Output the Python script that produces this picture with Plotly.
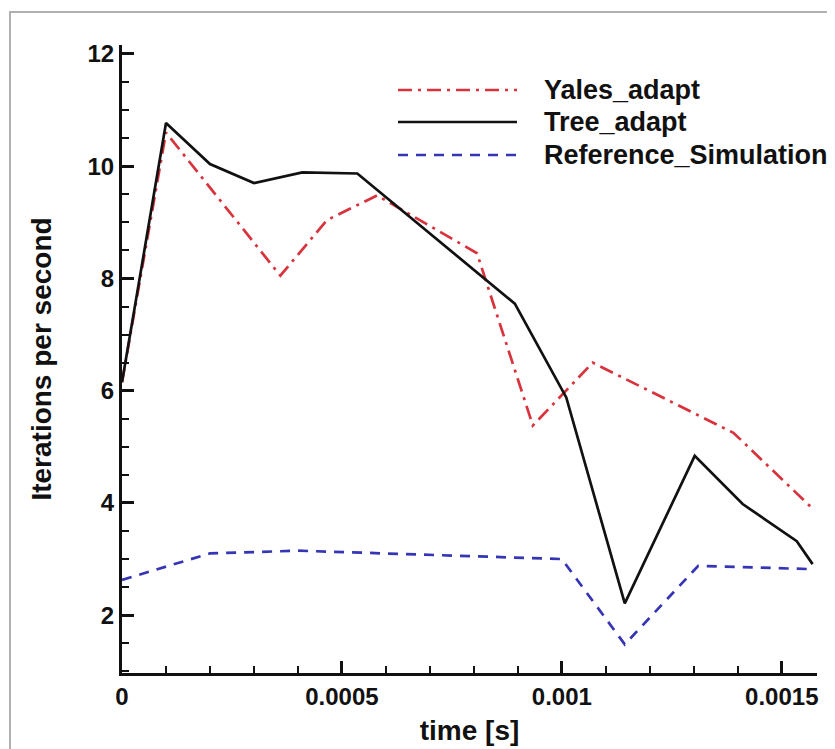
import plotly.graph_objects as go

# ---- data ----
tree_t = [0, 0.0001, 0.0002, 0.0003, 0.00041, 0.000535, 0.000893, 0.00101,
          0.001143, 0.001302, 0.001411, 0.001534, 0.00157]
tree_y = [6.15, 10.77, 10.04, 9.70, 9.89, 9.87, 7.55, 5.88,
          2.21, 4.84, 3.98, 3.32, 2.91]

yales_t = [0, 0.0001, 0.00036, 0.000466, 0.00058, 0.000807, 0.000934,
           0.00107, 0.00139, 0.00157]
yales_y = [6.15, 10.6, 8.05, 9.04, 9.48, 8.45, 5.38, 6.5, 5.25, 3.9]

ref_t = [0, 0.0002, 0.0004, 0.001, 0.001143, 0.00131, 0.00157]
ref_y = [2.63, 3.1, 3.15, 3.0, 1.48, 2.88, 2.82]

x_tickvals = [0, 0.0005, 0.001, 0.0015]
x_ticktext = ["0", "0.0005", "0.001", "0.0015"]
y_tickvals = [2, 4, 6, 8, 10, 12]

series_names = ["Yales_adapt", "Tree_adapt", "Reference_Simulation"]

RED = "#d8333d"
BLUE = "#3535b5"
BLACK = "#111111"
FONT = "Liberation Sans, Arial, sans-serif"

fig = go.Figure()
fig.add_trace(go.Scatter(x=yales_t, y=yales_y, mode="lines", name=series_names[0],
                         line=dict(color=RED, width=2.7, dash="14px,6px,3px,6px")))
fig.add_trace(go.Scatter(x=tree_t, y=tree_y, mode="lines", name=series_names[1],
                         line=dict(color=BLACK, width=2.7)))
fig.add_trace(go.Scatter(x=ref_t, y=ref_y, mode="lines", name=series_names[2],
                         line=dict(color=BLUE, width=2.7, dash="10px,8px")))

# page body adds an 8px offset; geometry below is in screen pixels
OFF = 8
L, R, T, B = 122, 817, 45, 673
W, H = 835, 749
pw, ph = R - L, B - T


def px(xp):
    return (xp - L) / pw


def py(yp):
    return (B - yp) / ph


shapes = []
annotations = []
# outer gray frame
shapes.append(dict(type="rect", xref="paper", yref="paper",
                   x0=px(10), x1=px(900), y0=py(800), y1=py(12),
                   line=dict(color="#b0b0b0", width=2), fillcolor="rgba(0,0,0,0)"))

# legend drawn manually (long line samples like the reference)
leg_rows = [90, 122, 155]
leg_styles = [dict(color=RED, width=2.7, dash="14px,6px,3px,6px"),
              dict(color=BLACK, width=2.7),
              dict(color=BLUE, width=2.7, dash="10px,8px")]
for name, yrow, st in zip(series_names, leg_rows, leg_styles):
    shapes.append(dict(type="line", xref="paper", yref="paper",
                       x0=px(398), x1=px(517), y0=py(yrow), y1=py(yrow), line=st))
    annotations.append(dict(xref="paper", yref="paper", x=px(542), y=py(yrow),
                            xanchor="left", yanchor="middle", showarrow=False,
                            text="<b>%s</b>" % name,
                            font=dict(family=FONT, size=27, color=BLACK)))

fig.update_layout(
    width=W, height=H,
    margin=dict(l=L - OFF, r=W - R + OFF, t=T - OFF, b=H - B + OFF, autoexpand=False),
    paper_bgcolor="white", plot_bgcolor="white",
    showlegend=False,
    font=dict(family=FONT, color=BLACK),
    shapes=shapes,
    annotations=annotations,
)

fig.update_xaxes(
    range=[0, 0.00158], showgrid=False, zeroline=False,
    showline=True, linecolor=BLACK, linewidth=3,
    tickmode="array", tickvals=x_tickvals, ticktext=x_ticktext,
    ticks="inside", ticklen=12, tickwidth=3, tickcolor=BLACK,
    tickfont=dict(family=FONT, size=24, color=BLACK, weight="bold"),
    minor=dict(tickmode="linear", tick0=0, dtick=0.0001, ticks="inside",
               ticklen=7, tickwidth=2, tickcolor=BLACK, showgrid=False),
    title=dict(text="<b>time [s]</b>", font=dict(family=FONT, size=28, color=BLACK),
               standoff=12),
)
fig.update_yaxes(
    range=[0.97, 12.16], showgrid=False, zeroline=False,
    showline=True, linecolor=BLACK, linewidth=3,
    tickmode="array", tickvals=y_tickvals,
    ticks="inside", ticklen=12, tickwidth=3, tickcolor=BLACK,
    tickfont=dict(family=FONT, size=24, color=BLACK, weight="bold"),
    minor=dict(tickmode="linear", tick0=0, dtick=0.5, ticks="inside",
               ticklen=7, tickwidth=2, tickcolor=BLACK, showgrid=False),
    title=dict(text="<b>Iterations per second</b>",
               font=dict(family=FONT, size=28, color=BLACK), standoff=28),
)

fig.write_html("out.html")
